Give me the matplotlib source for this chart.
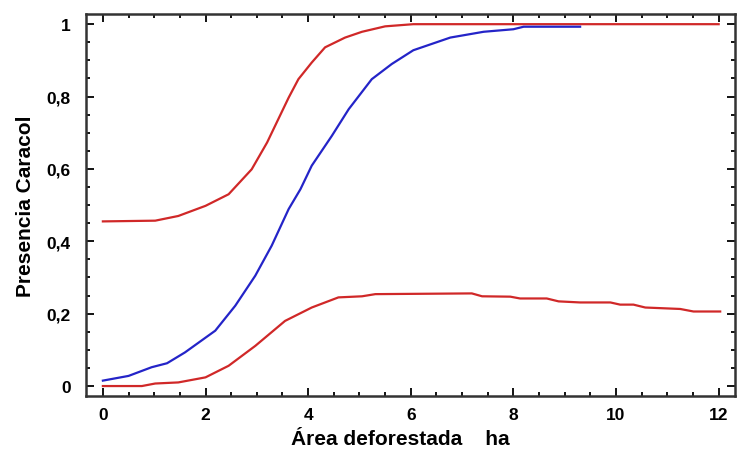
# Presencia de caracol vs area deforestada (curva ajustada + banda)

import matplotlib
matplotlib.use("Agg")
import matplotlib.pyplot as plt
from matplotlib.ticker import MultipleLocator, FuncFormatter

plt.rcParams["font.family"] = ["Liberation Sans", "DejaVu Sans"]
plt.rcParams["font.weight"] = "bold"

# Curva central (azul)
x_mid = [0, 0.5, 0.95, 1.25, 1.6, 2.19, 2.58, 2.97, 3.29, 3.62, 3.85, 4.07, 4.46,
         4.79, 5.24, 5.63, 6.05, 6.77, 7.42, 8.0, 8.2, 9.3]
y_mid = [0.015, 0.028, 0.052, 0.063, 0.093, 0.153, 0.222, 0.305, 0.388, 0.489, 0.544,
         0.609, 0.691, 0.765, 0.848, 0.89, 0.928, 0.963, 0.979, 0.986, 0.993, 0.993]

# Limite superior (rojo)
x_up = [0, 1.02, 1.47, 2.0, 2.45, 2.9, 3.2, 3.42, 3.62, 3.81, 4.07, 4.33, 4.72,
        5.05, 5.5, 6.05, 12.0]
y_up = [0.455, 0.457, 0.47, 0.498, 0.53, 0.599, 0.673, 0.738, 0.797, 0.848, 0.894,
        0.936, 0.963, 0.979, 0.994, 1.0, 1.0]

# Limite inferior (rojo)
x_low = [0, 0.76, 1.02, 1.47, 2.0, 2.45, 2.97, 3.55, 4.07, 4.59, 5.05, 5.31, 7.19,
         7.39, 7.94, 8.13, 8.65, 8.88, 9.3, 9.89, 10.08, 10.34, 10.57, 11.25, 11.51, 12.03]
y_low = [0.0, 0.0, 0.007, 0.01, 0.024, 0.056, 0.111, 0.18, 0.217, 0.245, 0.248, 0.254,
         0.256, 0.248, 0.247, 0.242, 0.242, 0.234, 0.231, 0.231, 0.225, 0.225, 0.217,
         0.213, 0.206, 0.206]

red = "#d02828"
blue = "#2424c8"

fig = plt.figure(figsize=(7.41, 4.56), dpi=100)
ax = fig.add_axes([0.116, 0.129, 0.876, 0.838])

ax.plot(x_up, y_up, color=red, lw=1.6)
ax.plot(x_low, y_low, color=red, lw=1.6)
ax.plot(x_mid, y_mid, color=blue, lw=1.6)

ax.set_xlim(-0.33, 12.32)
ax.set_ylim(-0.028, 1.028)

ax.xaxis.set_major_locator(MultipleLocator(2))
ax.xaxis.set_minor_locator(MultipleLocator(0.5))
ax.yaxis.set_major_locator(MultipleLocator(0.2))
ax.yaxis.set_minor_locator(MultipleLocator(0.05))

def coma(v, pos):
    s = ("%.1f" % v).rstrip("0").rstrip(".")
    if s == "-0":
        s = "0"
    return s.replace(".", ",")

ax.yaxis.set_major_formatter(FuncFormatter(coma))

ax.tick_params(which="both", direction="in", top=True, right=True, width=1.3)
ax.tick_params(which="major", length=6, labelsize=12.5)
ax.tick_params(axis="y", which="major", pad=11)
ax.tick_params(axis="x", which="major", pad=8)
ax.tick_params(which="minor", length=3)
for lab in ax.get_xticklabels() + ax.get_yticklabels():
    lab.set_fontweight("bold")

for sp in ax.spines.values():
    sp.set_linewidth(1.8)
    sp.set_color("#333333")

ax.set_xlabel("Área deforestada    ha", fontsize=15, fontweight="bold")
ax.xaxis.set_label_coords(0.485, -0.085)
ax.set_ylabel("Presencia Caracol", fontsize=15, fontweight="bold", labelpad=8)

fig.savefig("out.png", dpi=100)
